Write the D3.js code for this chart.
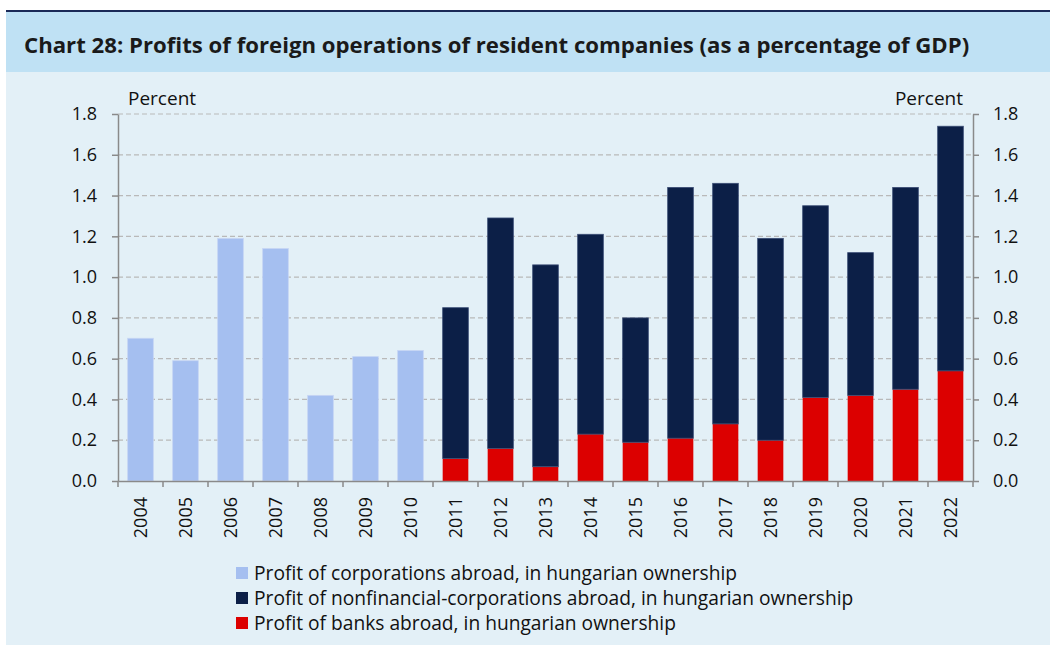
<!DOCTYPE html>
<html>
<head>
<meta charset="utf-8">
<script src="https://cdn.jsdelivr.net/npm/d3@7"></script>
<style>
  body { margin: 0; background: #fff; }
  text { font-family: "Open Sans", "Noto Sans", sans-serif; }
</style>
</head>
<body>
<div id="chart"></div>
<script>
// chart 28 - profits of foreign operations (% of GDP)

var width = 1050;
var height = 645;

var years = ['2004','2005','2006','2007','2008','2009','2010','2011','2012','2013',
             '2014','2015','2016','2017','2018','2019','2020','2021','2022'];

// light blue series, only up to 2010
var corporations = [0.70, 0.59, 1.19, 1.14, 0.42, 0.61, 0.64,
                    0, 0, 0, 0, 0, 0, 0, 0, 0, 0, 0, 0];
// navy series, from 2011
var nonfinancial = [0, 0, 0, 0, 0, 0, 0,
                    0.74, 1.13, 0.99, 0.98, 0.61, 1.23, 1.18, 0.99, 0.94, 0.70, 0.99, 1.20];
// red series, from 2011
var banks = [0, 0, 0, 0, 0, 0, 0,
             0.11, 0.16, 0.07, 0.23, 0.19, 0.21, 0.28, 0.20, 0.41, 0.42, 0.45, 0.54];

var yTicks = [0, 0.2, 0.4, 0.6, 0.8, 1.0, 1.2, 1.4, 1.6, 1.8];

var series = [
  {key: 'banks', label: 'Profit of banks abroad, in hungarian ownership', values: banks, fill: '#dc0000', stroke: 'none'},
  {key: 'nonfin', label: 'Profit of nonfinancial-corporations abroad, in hungarian ownership', values: nonfinancial, fill: '#0c1f47', stroke: '#3b4d75'},
  {key: 'corp', label: 'Profit of corporations abroad, in hungarian ownership', values: corporations, fill: '#a5bff0', stroke: '#c6d5f4'}
];
var legendOrder = ['corp', 'nonfin', 'banks'];

var table = years.map(function(y, i) {
  var row = {year: y};
  series.forEach(function(s) { row[s.key] = s.values[i]; });
  return row;
});

var svg = d3.select('#chart').append('svg')
  .attr('width', width)
  .attr('height', height);

// frame: dark rule, title band, panel
svg.append('rect').attr('x', 6).attr('y', 10).attr('width', width - 6).attr('height', 2).attr('fill', '#1b2957');
svg.append('rect').attr('x', 6).attr('y', 12).attr('width', width - 6).attr('height', 60).attr('fill', '#bfe1f4');
svg.append('rect').attr('x', 6).attr('y', 72).attr('width', width - 6).attr('height', height - 72).attr('fill', '#e3f0f7');

svg.append('text')
  .attr('x', 24).attr('y', 53)
  .style('font-size', '22.2px').style('font-weight', 'bold').attr('fill', '#1a1a1a')
  .text('Chart 28: Profits of foreign operations of resident companies (as a percentage of GDP)');

var plotLeft = 118, plotRight = 973, plotTop = 114, plotBottom = 481;

var x = d3.scaleBand().domain(years).range([plotLeft, plotRight]).paddingInner(0.43).paddingOuter(0.215);
var y = d3.scaleLinear().domain([0, 1.8]).range([plotBottom, plotTop]);

// dashed grid
svg.append('g').selectAll('line')
  .data(yTicks.filter(function(d) { return d > 0; }))
  .enter().append('line')
  .attr('x1', plotLeft).attr('x2', plotRight)
  .attr('y1', function(d) { return y(d); }).attr('y2', function(d) { return y(d); })
  .attr('stroke', '#b9b9b9').attr('stroke-width', 1.2).attr('stroke-dasharray', '5,3');

// bars
var stacked = d3.stack().keys(series.map(function(s) { return s.key; }))(table);

svg.append('g').selectAll('g')
  .data(stacked)
  .enter().append('g')
  .attr('fill', function(d, i) { return series[i].fill; })
  .attr('stroke', function(d, i) { return series[i].stroke; })
  .attr('stroke-width', 0.8)
  .selectAll('rect')
  .data(function(d) { return d.filter(function(p) { return p[1] - p[0] > 0; }); })
  .enter().append('rect')
  .attr('x', function(d) { return x(d.data.year); })
  .attr('width', x.bandwidth())
  .attr('y', function(d) { return y(d[1]); })
  .attr('height', function(d) { return y(d[0]) - y(d[1]); });

// axes
var fmt = d3.format('.1f');
var axisColor = '#8a8a8a';

var yLeft = svg.append('g').attr('transform', 'translate(' + plotLeft + ',0)')
  .call(d3.axisLeft(y).tickValues(yTicks).tickFormat(fmt).tickSize(6).tickPadding(15).tickSizeOuter(0));
var yRight = svg.append('g').attr('transform', 'translate(' + plotRight + ',0)')
  .call(d3.axisRight(y).tickValues(yTicks).tickFormat(fmt).tickSize(6).tickPadding(14).tickSizeOuter(0));

var xAxis = svg.append('g').attr('transform', 'translate(0,' + plotBottom + ')')
  .call(d3.axisBottom(x).tickSize(0).tickPadding(0).tickSizeOuter(0));

xAxis.selectAll('text')
  .attr('transform', 'rotate(-90)')
  .attr('x', -16).attr('y', 0).attr('dy', '0.35em')
  .style('text-anchor', 'end');

// x ticks sit between the bars
var step = x.step();
svg.append('g').selectAll('line')
  .data(years.concat(['end']))
  .enter().append('line')
  .attr('x1', function(d, i) { return plotLeft + i * step; })
  .attr('x2', function(d, i) { return plotLeft + i * step; })
  .attr('y1', plotBottom).attr('y2', plotBottom + 6)
  .attr('stroke', axisColor).attr('stroke-width', 1.5);

[yLeft, yRight, xAxis].forEach(function(g) {
  g.selectAll('path').attr('stroke', axisColor).attr('stroke-width', 1.5);
  g.selectAll('line').attr('stroke', axisColor).attr('stroke-width', 1.5);
  g.selectAll('text').style('font-size', '18px').attr('fill', '#111');
});

svg.append('text').attr('x', 128).attr('y', 105)
  .style('font-size', '19px').attr('fill', '#111').text('Percent');
svg.append('text').attr('x', 963).attr('y', 105).style('text-anchor', 'end')
  .style('font-size', '19px').attr('fill', '#111').text('Percent');

// legend
var legend = svg.append('g').selectAll('g')
  .data(legendOrder.map(function(k) { return series.find(function(s) { return s.key === k; }); }))
  .enter().append('g')
  .attr('transform', function(d, i) { return 'translate(236,' + (573 + i * 25) + ')'; });

legend.append('rect')
  .attr('x', 0).attr('y', -6).attr('width', 12).attr('height', 12)
  .attr('fill', function(d) { return d.fill; });

legend.append('text')
  .attr('x', 18).attr('y', 0).attr('dy', '0.35em')
  .style('font-size', '19.2px').attr('fill', '#111')
  .text(function(d) { return d.label; });
</script>
</body>
</html>
